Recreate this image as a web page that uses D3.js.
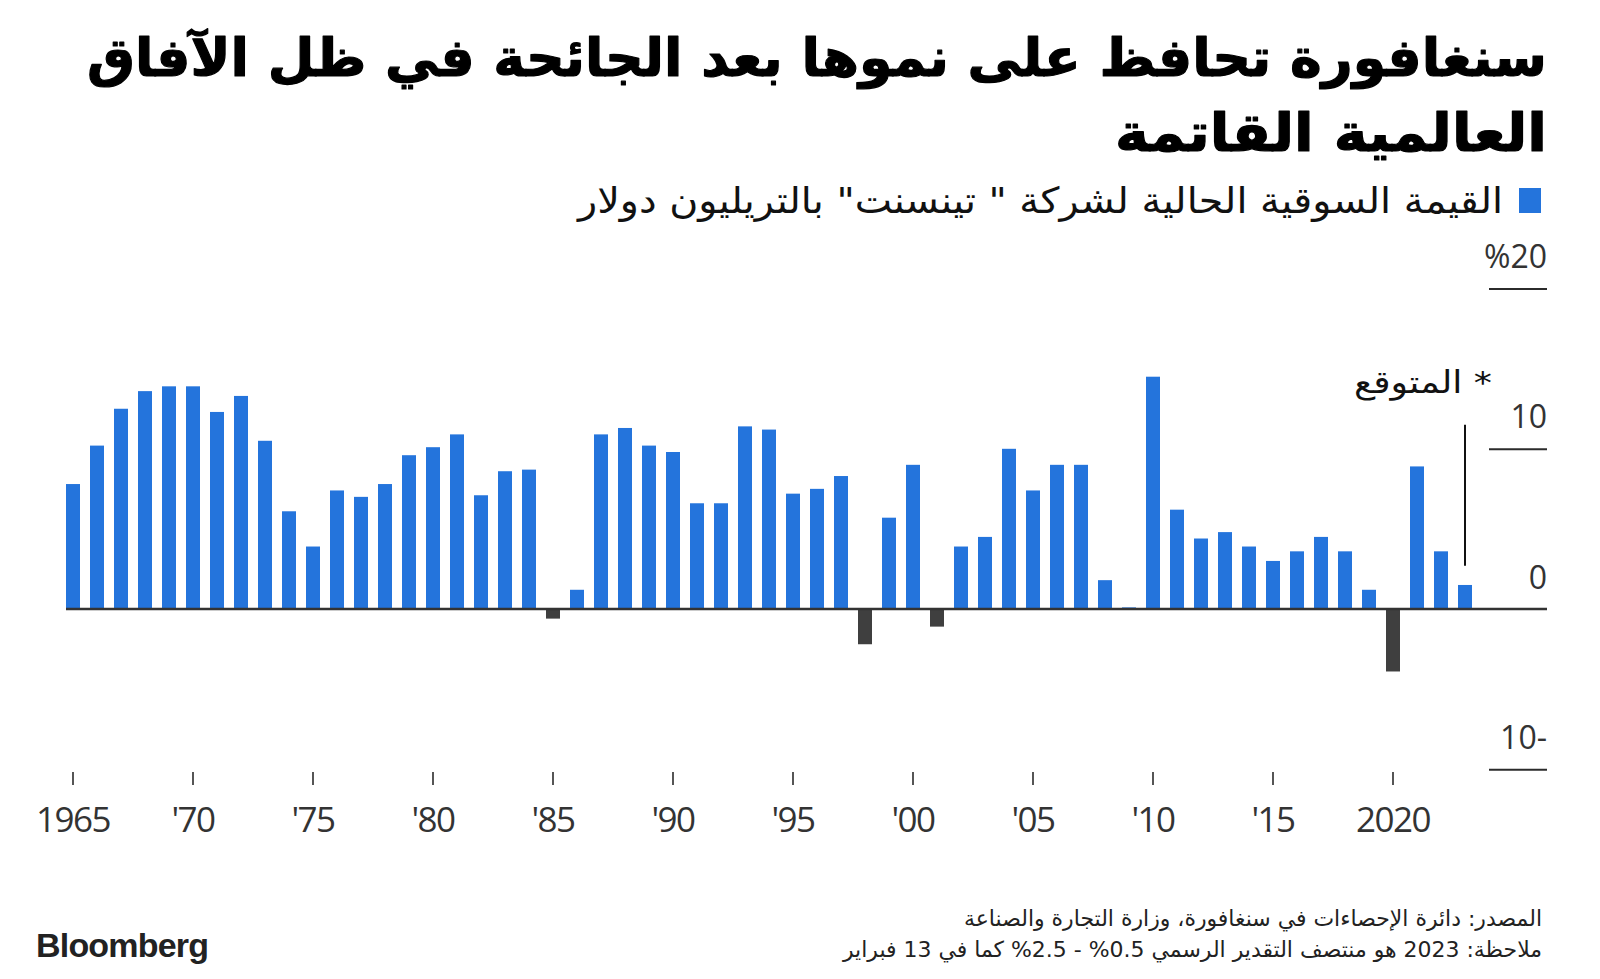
<!DOCTYPE html>
<html><head><meta charset="utf-8">
<script src="https://cdn.jsdelivr.net/npm/d3@7"></script>
<style>
html,body{margin:0;padding:0;background:#fff;}
svg{display:block;}
</style></head><body>
<svg id="chart" width="1600" height="979"></svg>
<script>
// ---- data ----
const years = [1965,1966,1967,1968,1969,1970,1971,1972,1973,1974,1975,1976,1977,1978,1979,1980,1981,1982,1983,1984,
  1985,1986,1987,1988,1989,1990,1991,1992,1993,1994,1995,1996,1997,1998,1999,2000,2001,2002,2003,2004,
  2005,2006,2007,2008,2009,2010,2011,2012,2013,2014,2015,2016,2017,2018,2019,2020,2021,2022,2023];
const growth = [7.8,10.2,12.5,13.6,13.9,13.9,12.3,13.3,10.5,6.1,3.9,7.4,7.0,7.8,9.6,10.1,10.9,7.1,8.6,8.7,
  -0.6,1.2,10.9,11.3,10.2,9.8,6.6,6.6,11.4,11.2,7.2,7.5,8.3,-2.2,5.7,9.0,-1.1,3.9,4.5,10.0,
  7.4,9.0,9.0,1.8,0.1,14.5,6.2,4.4,4.8,3.9,3.0,3.6,4.5,3.6,1.2,-3.9,8.9,3.6,1.5];
const yTicks = [20, 10, 0, -10];
const yTickLabels = ["%20", "10", "0", "10-"];
const xTicks = [1965,1970,1975,1980,1985,1990,1995,2000,2005,2010,2015,2020];
const xTickLabels = ["1965","'70","'75","'80","'85","'90","'95","'00","'05","'10","'15","2020"];
const titleLines = ["سنغافورة تحافظ على نموها بعد الجائحة في ظل الآفاق", "العالمية القاتمة"];
const legendLabel = "القيمة السوقية الحالية لشركة \" تينسنت\" بالتريليون دولار";
const forecastLabel = "* المتوقع";
const forecastYear = 2023;
const sourceLines = ["المصدر: دائرة الإحصاءات في سنغافورة، وزارة التجارة والصناعة",
  "ملاحظة: 2023 هو منتصف التقدير الرسمي \u2066%0.5\u2069 - \u2066%2.5\u2069 كما في 13 فبراير"];

// ---- styles ----
const BLUE = "#2474dc", NEG = "#3f3f3f", INK = "#2b2b2b";
const AR = "'DejaVu Sans', sans-serif";
const NUM = "'Open Sans', 'Noto Sans', sans-serif";

const svg = d3.select("#chart");

const x = d3.scaleBand().domain(years).range([61, 1477]).paddingInner(10/24).paddingOuter(5/24);
const y = d3.scaleLinear().domain([-10, 20]).range([769.2, 288.6]);
const right = 1547;

// title
const titleWidths = [1460, 432];
svg.append("g").selectAll("text").data(titleLines).join("text")
  .attr("x", right).attr("y", (d,i) => 76 + i*75)
  .attr("direction", "rtl").attr("text-anchor", "start")
  .attr("textLength", (d,i) => titleWidths[i]).attr("lengthAdjust", "spacingAndGlyphs")
  .attr("font-family", AR).attr("font-weight", "bold").attr("font-size", 53)
  .attr("stroke", "#000").attr("stroke-width", 1.2).attr("stroke-linejoin", "round")
  .attr("fill", "#000").text(d => d);

// legend
svg.append("rect").attr("x", 1519).attr("y", 188).attr("width", 22).attr("height", 25).attr("fill", BLUE);
svg.append("text").attr("x", 1503).attr("y", 213)
  .attr("direction", "rtl").attr("text-anchor", "start")
  .attr("textLength", 925).attr("lengthAdjust", "spacingAndGlyphs")
  .attr("font-family", AR).attr("font-size", 36).attr("fill", "#111").text(legendLabel);

// y axis (short gridline segments with labels above)
const yAxis = d3.axisLeft(y).tickValues(yTicks).tickSize(58)
  .tickFormat((d) => yTickLabels[yTicks.indexOf(d)]);
svg.append("g").attr("transform", `translate(${right},0)`).call(yAxis)
  .call(g => g.select(".domain").remove())
  .call(g => g.selectAll(".tick line").attr("stroke", INK).attr("stroke-width", 2)
     .attr("opacity", d => d === 0 ? 0 : 1))
  .call(g => g.selectAll(".tick text").attr("x", 0).attr("y", -21).attr("dy", null)
     .attr("text-anchor", "end").attr("font-family", NUM).attr("font-size", 32).attr("fill", "#333"));

// bars
const bars = years.map((yr, i) => ({yr, v: growth[i]}));
svg.append("g").selectAll("rect").data(bars).join("rect")
  .attr("x", d => x(d.yr)).attr("width", x.bandwidth())
  .attr("y", d => y(Math.max(0, d.v)))
  .attr("height", d => Math.abs(y(d.v) - y(0)))
  .attr("fill", d => d.v < 0 ? NEG : BLUE);

// zero line
svg.append("line").attr("x1", x(years[0])).attr("x2", right)
  .attr("y1", y(0)).attr("y2", y(0)).attr("stroke", "#333").attr("stroke-width", 2.5);

// x axis
const xAxis = d3.axisBottom(x).tickValues(xTicks).tickSize(13)
  .tickFormat(d => xTickLabels[xTicks.indexOf(d)]);
svg.append("g").attr("transform", "translate(0,772)").call(xAxis)
  .call(g => g.select(".domain").remove())
  .call(g => g.selectAll(".tick line").attr("stroke", INK).attr("stroke-width", 1.6))
  .call(g => g.selectAll(".tick text").attr("y", 60).attr("dy", null)
     .attr("font-family", NUM).attr("font-size", 35).attr("letter-spacing", -1.5).attr("fill", "#333"));

// forecast annotation
const fx = x(forecastYear) + x.bandwidth()/2;
svg.append("line").attr("x1", fx).attr("x2", fx).attr("y1", y(11.5)).attr("y2", y(2.7))
  .attr("stroke", "#111").attr("stroke-width", 2);
svg.append("text").attr("x", 1492).attr("y", 393)
  .attr("direction", "rtl").attr("text-anchor", "start")
  .attr("textLength", 138).attr("lengthAdjust", "spacingAndGlyphs")
  .attr("font-family", AR).attr("font-size", 31).attr("fill", "#111").text(forecastLabel);

// footer
const footWidths = [578, 699];
svg.append("g").selectAll("text").data(sourceLines).join("text")
  .attr("x", 1542).attr("y", (d,i) => 926 + i*31)
  .attr("direction", "rtl").attr("text-anchor", "start")
  .attr("textLength", (d,i) => footWidths[i]).attr("lengthAdjust", "spacingAndGlyphs")
  .attr("font-family", AR).attr("font-size", 22).attr("fill", "#222").text(d => d);

svg.append("text").attr("x", 36).attr("y", 957)
  .attr("font-family", "'Liberation Sans', Arial, sans-serif").attr("font-weight", "bold")
  .attr("font-size", 34).attr("letter-spacing", -0.8).attr("fill", "#222").text("Bloomberg");
</script>
</body></html>
